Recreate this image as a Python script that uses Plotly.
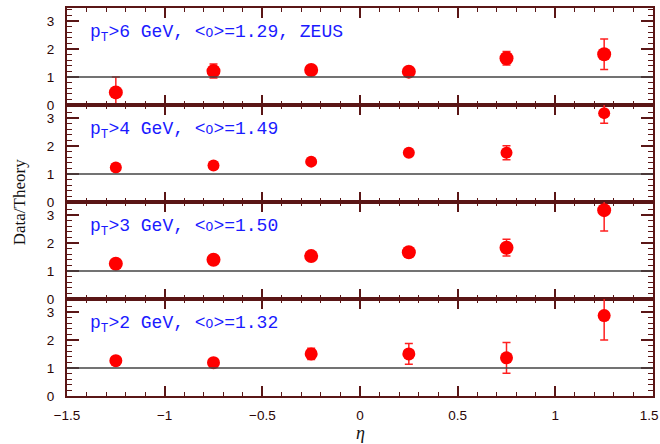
import plotly.graph_objects as go
from plotly.subplots import make_subplots

# ---- data ----
eta = [-1.25, -0.75, -0.25, 0.25, 0.75, 1.25]
panel_labels = [
    "p<sub>T</sub>&gt;6 GeV, &lt;<span style='font-size:13px'>O</span>&gt;=1.29, ZEUS",
    "p<sub>T</sub>&gt;4 GeV, &lt;<span style='font-size:13px'>O</span>&gt;=1.49",
    "p<sub>T</sub>&gt;3 GeV, &lt;<span style='font-size:13px'>O</span>&gt;=1.50",
    "p<sub>T</sub>&gt;2 GeV, &lt;<span style='font-size:13px'>O</span>&gt;=1.32",
]
ratio_pt6 = [0.45, 1.21, 1.25, 1.19, 1.67, 1.81]
err_pt6 = [0.55, 0.25, 0.10, 0.10, 0.24, 0.54]
ratio_pt4 = [1.23, 1.30, 1.44, 1.76, 1.76, 3.17]
err_pt4 = [0.08, 0.07, 0.08, 0.10, 0.25, 0.36]
ratio_pt3 = [1.26, 1.40, 1.53, 1.67, 1.83, 3.17]
err_pt3 = [0.08, 0.09, 0.09, 0.12, 0.30, 0.74]
ratio_pt2 = [1.26, 1.19, 1.50, 1.50, 1.36, 2.87]
err_pt2 = [0.08, 0.09, 0.20, 0.37, 0.55, 0.87]
ratios = [ratio_pt6, ratio_pt4, ratio_pt3, ratio_pt2]
errors = [err_pt6, err_pt4, err_pt3, err_pt2]
marker_sizes = [14, 12, 14, 13]
reference_value = 1.0
x_ticks = [-1.5, -1, -0.5, 0, 0.5, 1, 1.5]
x_tick_text = ["\u22121.5", "\u22121", "\u22120.5", "0", "0.5", "1", "1.5\u00a0\u00a0"]
y_ticks = [0, 1, 2, 3]

axis_col = "#5a1616"
tick_font = dict(family="Liberation Sans", size=13.5, color="#2a0505")

fig = make_subplots(rows=4, cols=1, shared_xaxes=True, vertical_spacing=0)

for i in range(4):
    r = i + 1
    sfx = '' if r == 1 else str(r)
    fig.add_trace(go.Scatter(
        x=eta, y=ratios[i], mode="markers",
        marker=dict(color="#ff0000", size=marker_sizes[i], line=dict(width=0)),
        error_y=dict(type="data", array=errors[i], color="#ff2020",
                     thickness=1.5, width=4),
        showlegend=False), row=r, col=1)
    fig.add_shape(type="line", xref=f"x{sfx} domain", yref=f"y{sfx}",
                  x0=0, x1=1, y0=reference_value, y1=reference_value,
                  line=dict(color="#444444", width=1.5))
    fig.update_xaxes(range=[-1.5, 1.5], showline=True, linecolor=axis_col,
                     linewidth=2, mirror="ticks", ticks="inside", ticklen=10,
                     tickwidth=1.5, tickcolor=axis_col,
                     tickvals=x_ticks, ticktext=x_tick_text,
                     ticklabeloverflow="allow", automargin=False,
                     minor=dict(dtick=0.1, tick0=-1.5, ticks="inside", ticklen=4,
                                tickwidth=1.2, tickcolor=axis_col, showgrid=False),
                     showgrid=False, zeroline=False, tickfont=tick_font,
                     ticklabelstandoff=6, row=r, col=1)
    fig.update_yaxes(range=[0, 3.46], showline=True, linecolor=axis_col,
                     linewidth=2, mirror="ticks", ticks="inside", ticklen=12,
                     tickwidth=1.5, tickcolor=axis_col, tickvals=y_ticks,
                     automargin=False,
                     minor=dict(dtick=0.2, tick0=0, ticks="inside", ticklen=5,
                                tickwidth=1.2, tickcolor=axis_col, showgrid=False),
                     showgrid=False, zeroline=False, tickfont=tick_font,
                     ticklabelstandoff=8, row=r, col=1)
    fig.add_annotation(x=-1.395, y=2.55, xref=f"x{sfx}", yref=f"y{sfx}",
                       text=panel_labels[i],
                       showarrow=False, xanchor="left", yanchor="middle",
                       font=dict(family="Liberation Mono", size=18, color="#1a1aff"))

fig.add_annotation(x=-0.0815, y=0.5, xref="paper", yref="paper", text="Data/Theory",
                   textangle=-90, showarrow=False, xanchor="center", yanchor="middle",
                   font=dict(family="Liberation Serif", size=17, color="#111111"))
fig.add_annotation(x=0.0, y=-0.095, xref="x4", yref="paper", text="<i>\u03b7</i>",
                   showarrow=False, xanchor="center", yanchor="middle",
                   font=dict(family="Liberation Serif", size=18, color="#111111"))

fig.update_layout(width=660, height=444,
                  margin=dict(l=67, r=7, t=8, b=48),
                  paper_bgcolor="white", plot_bgcolor="white")

fig.write_html("out.html")
